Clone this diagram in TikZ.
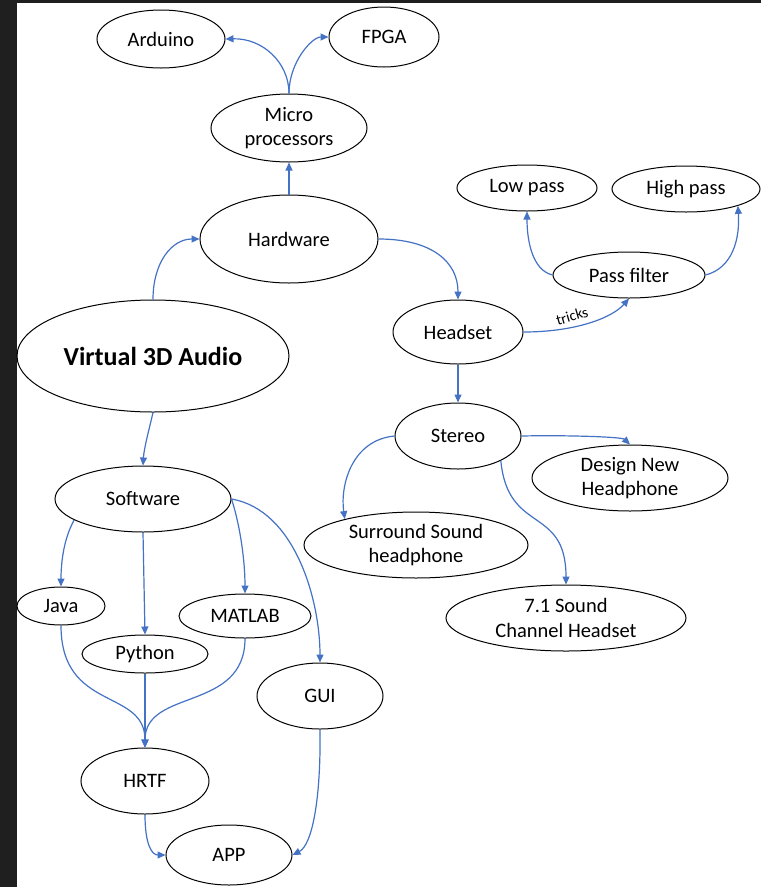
\documentclass[tikz,border=0pt]{standalone}
\usepackage{fontspec}
\setmainfont{Carlito}
\usetikzlibrary{shapes.geometric,arrows.meta}
\definecolor{edgeblue}{HTML}{4472C4}
\definecolor{darkband}{HTML}{1F1F1F}
\begin{document}
\begin{tikzpicture}[x=1pt,y=-1pt,
 box/.style={ellipse, draw=black, line width=1pt, inner sep=0pt, font=\fontsize{20.5}{24.5}\selectfont, align=center},
 link/.style={draw=edgeblue, line width=1.2pt, -{Triangle[length=8pt,width=7pt]}}]
\useasboundingbox (0,0) rectangle (761,887);
\fill[white] (0,0) rectangle (761,887);
\fill[darkband] (0,0) rectangle (17,887);
\fill[darkband] (0,0) rectangle (761,3);

\node[box, minimum width=128pt, minimum height=58pt] (arduino) at (161,39) {Arduino};
\node[box, minimum width=110pt, minimum height=60pt] (fpga) at (384,37) {FPGA};
\node[box, minimum width=156pt, minimum height=68pt] (micro) at (289,128) {Micro\\processors};
\node[box, minimum width=178pt, minimum height=88pt] (hardware) at (289,239) {Hardware};
\node[box, minimum width=272pt, minimum height=112pt, font=\fontsize{26}{30}\selectfont\bfseries] (virtual) at (153,356) {Virtual 3D Audio};
\node[box, minimum width=176pt, minimum height=66pt] (software) at (143,499) {Software};
\node[box, minimum width=88pt, minimum height=38pt] (java) at (61,606) {Java};
\node[box, minimum width=126pt, minimum height=38pt] (python) at (145,654) {Python};
\node[box, minimum width=132pt, minimum height=44pt] (matlab) at (245,616) {MATLAB};
\node[box, minimum width=126pt, minimum height=66pt] (gui) at (320,696) {GUI};
\node[box, minimum width=128pt, minimum height=66pt] (hrtf) at (145,781) {HRTF};
\node[box, minimum width=126pt, minimum height=60pt] (app) at (229,855) {APP};
\node[box, minimum width=130pt, minimum height=64pt] (headset) at (458,332) {Headset};
\node[box, minimum width=152pt, minimum height=46pt] (passf) at (629,275) {Pass filter};
\node[box, minimum width=140pt, minimum height=46pt] (lowpass) at (527,188) {Low pass};
\node[box, minimum width=148pt, minimum height=46pt] (highpass) at (686,189) {High pass};
\node[box, minimum width=126pt, minimum height=66pt] (stereo) at (458,436) {Stereo};
\node[box, minimum width=196pt, minimum height=66pt] (design) at (630,478) {Design New\\Headphone};
\node[box, minimum width=224pt, minimum height=66pt] (surround) at (416,545) {Surround Sound\\headphone};
\node[box, minimum width=240pt, minimum height=66pt] (seven) at (566,618) {7.1 Sound\\Channel Headset};

\node[font=\fontsize{15}{18}\selectfont, rotate=16, inner sep=0pt] (tricks) at (572,316) {tricks};

% connectors
\draw[link] (micro.north) .. controls (289,62) and (262,38) .. (arduino.east);
\draw[link] (micro.north) .. controls (289,62) and (312,37) .. (fpga.west);
\draw[link] (hardware.north) -- (micro.south);
\draw[link] (virtual.north) .. controls (153,262) and (172,239) .. (hardware.west);
\draw[link] (hardware.east) .. controls (432,239) and (458,262) .. (headset.north);
\draw[link] (headset.east) .. controls (575,332) and (612,318) .. (passf.south);
\draw[link] (passf.west) .. controls (532,270) and (527,240) .. (lowpass.south);
\draw[link] (passf.east) .. controls (733,268) and (740,238) .. (highpass.-18);
\draw[link] (headset.south) -- (stereo.north);
\draw[link] (stereo.east) .. controls (570,435) and (622,437) .. (design.north);
\draw[link] (stereo.west) .. controls (352,440) and (340,485) .. (surround.160);
\draw[link] (stereo.-30) .. controls (508,535) and (566,505) .. (seven.north);
\draw[link] (virtual.south) .. controls (149,430) and (144,448) .. (software.north);
\draw[link] (software.197) .. controls (63,540) and (61,565) .. (java.north);
\draw[link] (software.south) -- (python.north);
\draw[link] (software.east) .. controls (240,525) and (245,560) .. (matlab.north);
\draw[link] (software.east) .. controls (295,510) and (320,600) .. (gui.north);
\draw[link] (java.south) .. controls (61,712) and (145,688) .. (hrtf.north);
\draw[link] (python.south) -- (hrtf.north);
\draw[link] (matlab.south) .. controls (245,712) and (145,688) .. (hrtf.north);
\draw[link] (hrtf.south) .. controls (145,845) and (152,855) .. (app.west);
\draw[link] (gui.south) .. controls (321,800) and (312,845) .. (app.east);
\end{tikzpicture}
\end{document}
